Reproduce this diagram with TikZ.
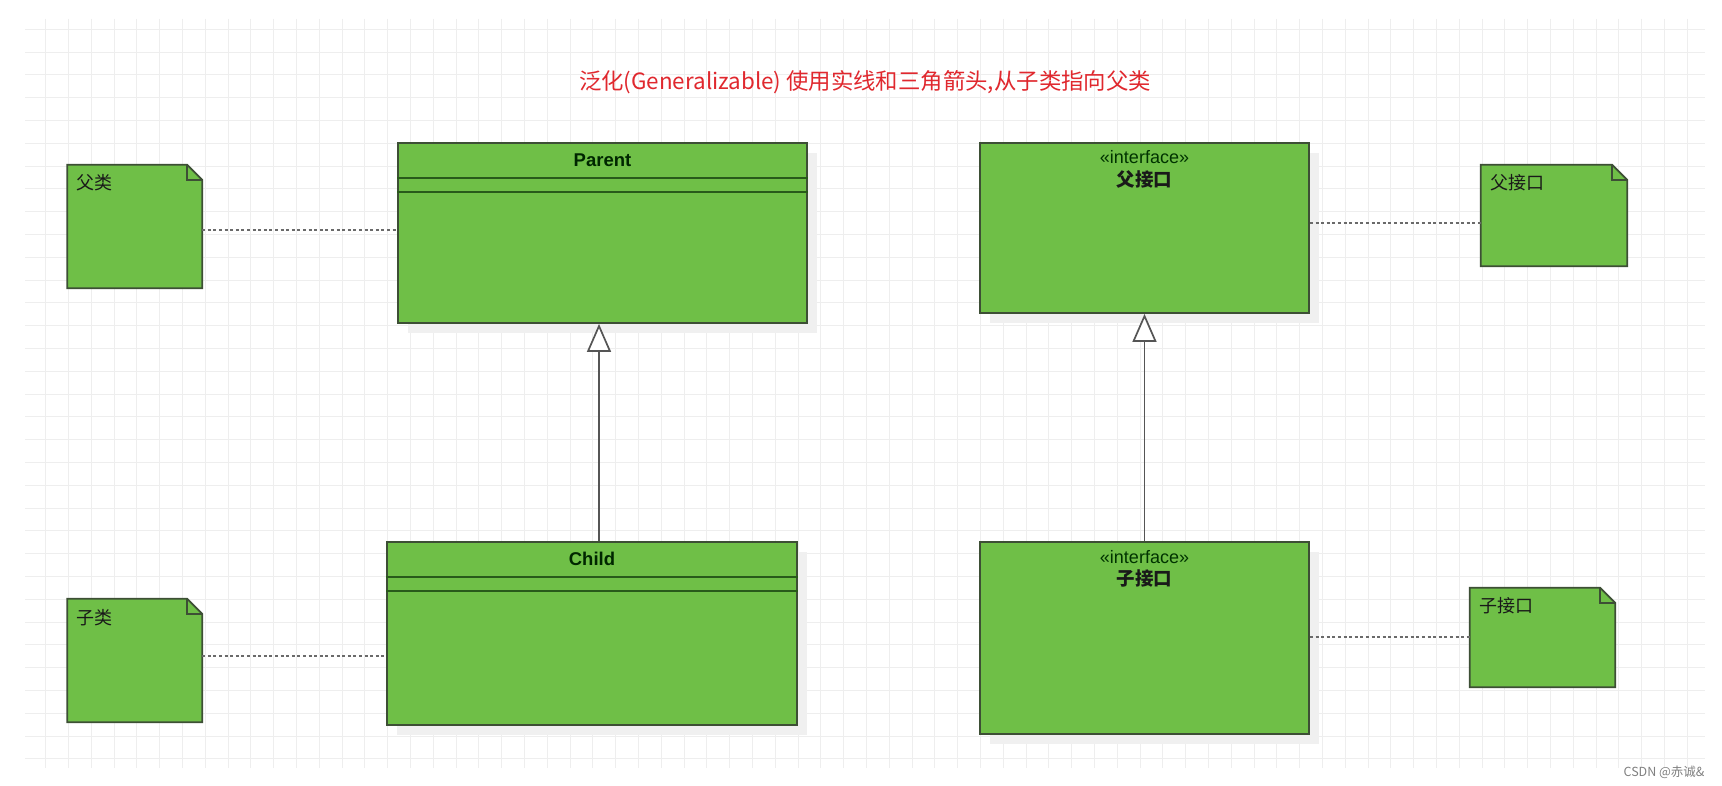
\documentclass[tikz,border=0pt]{standalone}
\usepackage{fontspec}
\setmainfont{Liberation Sans}
\newfontfamily\cjk{Noto Sans CJK SC}
\usetikzlibrary{arrows.meta,calc,shadows}
\definecolor{boxgreen}{HTML}{6FBF47}
\definecolor{boxedge}{HTML}{3D4F35}
\definecolor{rowline}{HTML}{285A1A}
\definecolor{titlered}{HTML}{E0282E}
\definecolor{gridc}{HTML}{EEEEEE}
\definecolor{dotc}{HTML}{6A6A6A}
\definecolor{linkc}{HTML}{555555}
\tikzset{
  classbox/.style={draw=boxedge, fill=boxgreen, line width=1.8pt, inner sep=0pt,
    drop shadow={shadow xshift=10pt, shadow yshift=-10pt, fill=black!6, opacity=1}},
  noteanchor/.style={draw=none, fill=none, inner sep=0pt},
  noteshape/.style={draw=boxedge, fill=boxgreen, line width=1.8pt, line join=miter},
  foldline/.style={draw=boxedge, line width=1.5pt},
  rowsep/.style={draw=rowline, line width=2.2pt},
  classname/.style={font=\bfseries\fontsize{18.5pt}{20pt}\selectfont, text=black!85!green},
  stereo/.style={font=\fontsize{18pt}{20pt}\selectfont, text=black!80!green},
  cjkbold/.style={font=\cjk\bfseries\fontsize{18.5pt}{20pt}\selectfont, text=black!90},
  notetext/.style={font=\cjk\fontsize{18pt}{20pt}\selectfont, anchor=west, text=black!90},
  dotlink/.style={draw=dotc, line width=2.6pt, dash pattern=on 3pt off 2.6pt},
  genlink/.style={draw=linkc, line width=1.7pt,
    -{Triangle[length=28pt,width=24pt,fill=white]}},
  gridline/.style={draw=gridc, line width=0.9pt}
}
\begin{document}
\begin{tikzpicture}[x=1pt,y=-1pt]
\useasboundingbox (0,0) rectangle (1722,786);
\fill[white] (0,0) rectangle (1722,786);
% grid
\foreach \i in {0,...,72} \draw[gridline] ({45.7+22.8*\i},19) -- ({45.7+22.8*\i},768);
\foreach \j in {0,...,32} \draw[gridline] (25,{29.3+22.8*\j}) -- (1705,{29.3+22.8*\j});

% title
\node[font=\cjk\fontsize{22.4pt}{25pt}\selectfont, text=titlered] (title) at (865,82)
  {泛化(Generalizable) 使用实线和三角箭头,从子类指向父类};

% class boxes
\node[classbox, minimum width=409pt, minimum height=180pt] (parent) at (602.5,233) {};
\node[classbox, minimum width=410pt, minimum height=183pt] (child) at (592,633.5) {};
\node[classbox, minimum width=329pt, minimum height=170pt] (ipar) at (1144.5,228) {};
\node[classbox, minimum width=329pt, minimum height=192pt] (ichild) at (1144.5,638) {};

\draw[rowsep] ($(parent.north west)+(0,36)$) -- ($(parent.north east)+(0,36)$);
\draw[rowsep] ($(parent.north west)+(0,50)$) -- ($(parent.north east)+(0,50)$);
\draw[rowsep] ($(child.north west)+(0,36)$) -- ($(child.north east)+(0,36)$);
\draw[rowsep] ($(child.north west)+(0,50)$) -- ($(child.north east)+(0,50)$);

\node[classname] (parentT) at ($(parent.north)+(0,18)$) {Parent};
\node[classname] (childT) at ($(child.north)+(0,18)$) {Child};
\node[stereo] (iparS) at ($(ipar.north)+(0,15)$) {«interface»};
\node[cjkbold] (iparT) at ($(ipar.north)+(0,37)$) {父接口};
\node[stereo] (ichildS) at ($(ichild.north)+(0,16)$) {«interface»};
\node[cjkbold] (ichildT) at ($(ichild.north)+(0,37)$) {子接口};

% notes
\node[noteanchor, minimum width=134.5pt, minimum height=123pt] (nA) at (134.75,226.5) {};
\node[noteanchor, minimum width=134.5pt, minimum height=123pt] (nB) at (134.75,660.5) {};
\node[noteanchor, minimum width=146pt, minimum height=101pt] (nC) at (1554,215.5) {};
\node[noteanchor, minimum width=145pt, minimum height=99pt] (nD) at (1542.5,637.5) {};
\foreach \n in {nA,nB,nC,nD}{
  \path[noteshape] (\n.north west) -- ($(\n.north east)+(-15,0)$) -- ($(\n.north east)+(0,15)$)
    -- (\n.south east) -- (\n.south west) -- cycle;
  \draw[foldline] ($(\n.north east)+(-15,0)$) -- ($(\n.north east)+(-15,15)$) -- ($(\n.north east)+(0,15)$);
}
\node[notetext] (tA) at ($(nA.north west)+(6,18)$) {父类};
\node[notetext] (tB) at ($(nB.north west)+(6,19)$) {子类};
\node[notetext] (tC) at ($(nC.north west)+(6,18)$) {父接口};
\node[notetext] (tD) at ($(nD.north west)+(6,18)$) {子接口};

% dotted note links
\coordinate (dA) at (0,230);
\coordinate (dB) at (0,656);
\coordinate (dC) at (0,223);
\coordinate (dD) at (0,637);
\draw[dotlink] (nA.east |- dA) -- (parent.west |- dA);
\draw[dotlink] (nB.east |- dB) -- (child.west |- dB);
\draw[dotlink] (ipar.east |- dC) -- (nC.west |- dC);
\draw[dotlink] (ichild.east |- dD) -- (nD.west |- dD);

% generalization
\coordinate (g1) at (599,0);
\draw[genlink] (child.north -| g1) -- (parent.south -| g1);
\draw[genlink] (ichild.north) -- (ipar.south);

% watermark
\node[font=\cjk\fontsize{12.5pt}{14pt}\selectfont, text=black!50, anchor=east] (wm) at (1708,772) {CSDN @赤诚\&};
\end{tikzpicture}
\end{document}
